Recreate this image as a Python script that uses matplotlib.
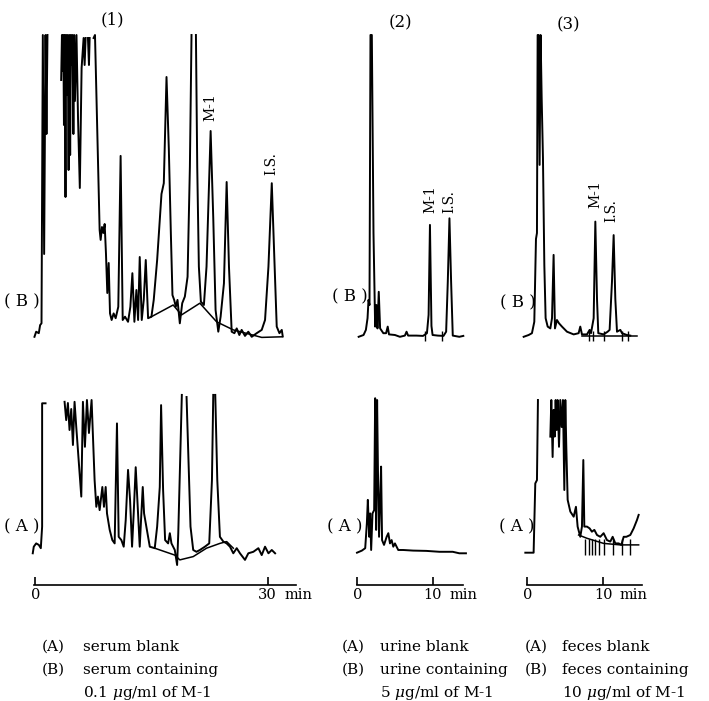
import numpy as np
import matplotlib.pyplot as plt

plt.rcParams['font.family'] = 'DejaVu Serif'
plt.rcParams['mathtext.fontset'] = 'dejavuserif'

nan = np.nan

# ---- (1) serum : time (min), detector response (% of chart) ----
serum_b_t = [-0.13, 0.09, 0.43, 0.6, 0.78, 0.95, 1.12, 1.3, 1.42, 1.55, nan,
             3.32, 3.42, 3.5, 3.6, 3.68, 3.78, 3.88, 3.97, 4.08, 4.17, 4.28, 4.38,
             4.48, 4.58, 4.68, 4.78, 4.9, 5.0, 5.1, 5.3, 5.5, 5.73, 5.96, 6.22, 6.35,
             6.48, nan, 6.78, 6.91, 7.0, nan, 7.51, 7.69, 8.29, 8.42, 8.59, 8.77, 8.94,
             9.11, 9.28, 9.46, 9.63, 9.84, 10.1, 10.36, 10.7, 11.0, 11.27, 11.57, 11.96,
             12.26, 12.52, 12.78, 13.04, 13.26, 13.47, 13.73, 13.99, 14.25, 14.55, 14.98,
             15.28, 15.72, 16.28, 16.58, 16.93, 17.23, 17.49, 17.7, 17.92, 18.13, 18.35,
             18.65, 18.96, 19.3, 19.65, 19.95, 20.16, nan, 20.73, 20.9, 21.11, 21.37,
             21.76, 22.1, 22.63, 22.97, 23.27, 23.62, 23.92, 24.35, 24.7, 25.0, 25.35,
             25.7, 26.0, 26.34, 26.64, 27.07, 27.5, 27.94, 28.58, 29.23, 29.66, 30.1,
             30.53, 30.87, 31.17, 31.52, 31.82, 31.95]
serum_b_v = [-0.6, 1.1, 0.6, 3.3, 3.9, 100, 27, 100, 67, 100, nan,
             85, 100, 88, 100, 70, 100, 46, 100, 80, 100, 55, 100,
             60, 100, 90, 100, 67, 100, 78, 100, 72, 49, 89, 99, 90,
             99, nan, 99, 90, 99, nan, 99, 100, 35, 31.7, 36, 34, 37,
             27, 14, 24, 7.2, 5, 7.2, 5.6, 9.4, 59.7, 5, 6.1, 4.4,
             9.4, 20.6, 4.4, 15, 5, 26, 5, 11.7, 25, 5.6, 6.1,
             11.7, 25, 47, 50.6, 86, 62, 34, 13.3, 11.7, 9.4, 11.7,
             3.9, 10.6, 12.8, 19.4, 56, 100, nan, 100, 56, 22.8, 11.1,
             10, 22.8, 68, 39, 8.3, 1.1, 6.1, 17.2, 51, 22.8, 1.1,
             0.6, 2.2, 0, 1.7, -0.3, 1.1, -0.6, 0.6, 1.7, 5, 22.8,
             50.6, 25, 2.8, 0.6, 1.7, -0.5]
serum_b_base_t = [14.98, 17.79, 18.87, 21.24, 23.4, 25.56, 29.23, 31.82]
serum_b_base_v = [6.1, 10, 6.7, 10.6, 4.4, 1.7, -0.8, -0.6]

serum_a_t = [-0.35, -0.22, 0.09, 0.43, 0.69, 0.86, 0.86, 1.3, nan,
             3.76, 3.97, 4.19, 4.4, 4.62, 4.84, 5.05, 5.27, 5.92, 6.13, 6.39, 6.65,
             6.91, 7.25, 7.64, 7.86, 8.07, 8.29, 8.64, 8.85, 9.07, 9.24, 9.59, 9.93,
             10.23, 10.53, 10.75, 11.1, 11.4, 11.66, 11.96, 12.22, 12.48, 12.69, 12.95,
             13.21, 13.47, 13.64, 13.86, 14.03, 14.25, 14.77, 15.41, 15.72, 16.06,
             16.23, 16.49, 16.75, 17.14, 17.36, 17.57, 18.0, 18.3, 18.45, 18.65, 18.91,
             nan, 19.52, 19.78, 20.03, 20.38, 20.8, 21.24, 21.89, 22.45, 22.8, 22.97,
             nan, 23.23, 23.49, 23.83, 24.27, 24.7, 25.13, 25.56, 26.0, 26.42, 27.07,
             27.5, 28.15, 28.8, 29.23, 29.66, 30.1, 30.53, 30.96]
serum_a_v = [-0.1, 2.1, 3.2, 2.7, 1.6, 8.8, 49.9, 49.9, nan,
             50.4, 44.3, 50, 41, 48, 36, 50.4, 42, 18.8, 50.4, 35.4, 51,
             40, 51, 24.3, 15.4, 18.8, 14.3, 22, 15.4, 22, 13.2, 7.7, 4.3,
             3.2, 43.2, 5.4, 4.3, 2.1, 11, 27.7, 17.7, 2.1, 13.2, 28.6,
             15.4, 2.1, 11, 22, 13.2, 9.9, 2.1, 1.6, 8.8, 22,
             49.3, 21, 4.3, 3.2, 6.6, 3.2, 1, -4, 6.6, 26.6, 52.7,
             nan, 52, 30, 8.8, 1, 0.4, 1, 2.1, 3.2, 24.3, 52.7,
             nan, 52.7, 24.3, 5.4, 3.8, 3.2, 2.1, -0.1, 1.6, -0.1, -2.3,
             -0.1, 0.4, 1.6, -0.7, 2.1, -0.1, 1, -0.1]
serum_a_base_t = [15.41, 18.0, 18.65, 20.38, 22.1, 23.83, 24.7, 25.56]
serum_a_base_v = [1.6, -0.7, -2.3, -1.2, 1.6, 3.2, 3.8, 1.6]

# ---- (2) urine ----
urine_b_t = [0.18, 0.83, 1.14, 1.36, 1.49, 1.62, 1.75, 1.93, 2.15, 2.37, 2.54, 2.68,
             2.85, 3.03, 3.46, 3.82, 4.04, 4.21, 5.0, 5.66, 6.32, 6.54, 6.75, 7.85,
             8.73, 9.25, 9.47, 9.65, 9.85, 10.0, 10.7, 11.45, 11.8, 12.02, 12.24,
             12.46, 12.68, 13.55, 14.08]
urine_b_v = [-0.6, 0, 1.7, 5.6, 11.7, 10, 100, 100, 34, 2.8, 10, 2.2,
             14.4, 2.2, 0.6, 0.6, 2.8, 0.2, 0, -0.6, -0.2, 1.1, -0.2, -0.2,
             -0.3, 0.6, 6.7, 36.7, 3, 0, -0.2, -0.3, 1.1, 17.8, 38.9,
             17.8, -0.2, -0.6, -0.3]
urine_b_marks = [8.99, 11.27]

urine_a_t = [-0.04, 0.61, 1.05, 1.27, 1.4, 1.58, 1.71, 1.84, 2.02, 2.24, 2.37, 2.5,
             2.63, 2.76, 2.89, 3.07, 3.16, 3.29, 3.55, 3.9, 4.12, 4.34, 4.56, 4.78,
             5.0, 5.44, 6.1, 7.41, 9.17, 10.92, 12.68, 13.55, 14.43]
urine_a_v = [0.1, 0.8, 1.6, 9.9, 17.7, 5.4, 13.2, 1, 13.2, 14.3, 51.6, 7.7,
             51, 24.3, 5.4, 21, 28.8, 4.3, 2.7, 5.4, 6.6, 3.2, 4.3, 2.1,
             3.2, 1, 1, 0.8, 0.7, 0.4, 0.4, -0.1, -0.1]

# ---- (3) feces ----
feces_b_t = [-0.48, 0.18, 0.61, 0.92, 1.14, 1.27, 1.36, 1.49, 1.62, 1.75, 1.89, 2.06,
             2.24, 2.41, 2.68, 3.03, 3.25, 3.46, 3.64, 3.9, 4.17, 4.56, 5.22, 6.1,
             6.75, 6.97, 7.19, 7.85, 8.2, 8.38, 8.73, 8.95, 9.17, 9.34, 10.04, 10.57,
             10.83, 11.14, 11.36, 11.58, 11.8, 12.24, 12.46, 13.1, 13.55]
feces_b_v = [-0.6, 0, 0.6, 4.4, 32, 34, 100, 100, 56.7, 100, 79, 59,
             23.3, 5.6, 2.8, 2.2, 5.6, 26.7, 2.2, 5, 3.9, 2.8, 1.1, 0.2,
             0.6, 2.8, 0.2, 0.2, 1.7, 0.6, 5.6, 37.8, 12, 0.6, 0.2, 1.1,
             1.7, 17.8, 33.3, 12, 1.1, 1.7, 0.6, 0, -0.2]
feces_b_base_t = [7.2, 14.4]
feces_b_base_v = [-0.3, -0.3]
feces_b_marks = [8.16, 8.7, 10.1, 12.4, 13.3]

feces_a_t = [-0.26, 0.83, 1.05, 1.27, 1.4, nan,
             3.03, 3.16, 3.33, 3.46, 3.6, 3.73, 3.86, 3.99, 4.17, 4.34, 4.52, 4.69,
             4.87, 5.0, 5.13, 5.31, 5.66, 6.1, 6.4, 6.62, 6.97, 7.19, 7.37, 7.5, 7.85,
             8.2, 8.5, 8.82, 9.17, 9.6, 10.04, 10.48, 10.92, 11.23, 11.58, 12.02,
             12.37, 12.68, 13.03, 13.55, 13.99, 14.43, 14.65]
feces_a_v = [0.1, 0.1, 23.2, 24.3, 51, nan,
             38.8, 51, 32, 47.7, 38.8, 51, 41, 51, 35.4, 51, 42, 51,
             21, 51, 35.4, 17.7, 13.8, 12.1, 15.4, 8.8, 5.4, 8.8, 31, 8.8, 8.8,
             8.2, 7.1, 7.7, 6, 5.4, 6.6, 4.3, 3.8, 5.4, 3.2, 3.2,
             2.7, 5.4, 5.4, 6, 8.2, 11, 12.7]
feces_a_base_t = [6.75, 7.85, 10.04, 12.24, 14.65]
feces_a_base_v = [6, 4.9, 3.2, 2.7, 2.7]
feces_a_marks = [7.63, 8.07, 8.51, 8.95, 9.39, 10.04, 11.27, 12.46, 13.46]

# labelled peaks: (text, time, peak height, label height)
serum_peaks = [("M-1", 22.63, 68, 71.4), ("I.S.", 30.53, 50.6, 53.3)]
urine_peaks = [("M-1", 9.65, 36.7, 40.6), ("I.S.", 12.24, 38.9, 40.6)]
feces_peaks = [("M-1", 9.0, 38.4, 42.2), ("I.S.", 11.1, 34, 37.8)]

titles = ["(1)", "(2)", "(3)"]
axis_ticks = [[0, 30], [0, 10], [0, 10]]
legend_texts = [
    ["serum blank", "serum containing", "0.1 $\\mu$g/ml of M-1"],
    ["urine blank", "urine containing", "5 $\\mu$g/ml of M-1"],
    ["feces blank", "feces containing", "10 $\\mu$g/ml of M-1"],
]

W, H = 709, 701
fig = plt.figure(figsize=(W / 100, H / 100), dpi=100)


def rect(x0, y0, x1, y1):
    # pixel box -> figure fraction
    return [x0 / W, 1 - y1 / H, (x1 - x0) / W, (y1 - y0) / H]


cols = [
    dict(x=(34, 296), xlim=(-0.19, 33.66), title_x=112, title_y=20,
         b_lab=(22, 302), a_lab=(22, 527), leg_x=(42, 83),
         b=(serum_b_t, serum_b_v), b_base=(serum_b_base_t, serum_b_base_v), b_marks=[],
         a=(serum_a_t, serum_a_v), a_base=(serum_a_base_t, serum_a_base_v), a_marks=[],
         peaks=serum_peaks),
    dict(x=(357, 463), xlim=(-0.04, 14.04), title_x=400, title_y=23,
         b_lab=(350, 297), a_lab=(345, 527), leg_x=(342, 380),
         b=(urine_b_t, urine_b_v), b_base=None, b_marks=urine_b_marks,
         a=(urine_a_t, urine_a_v), a_base=None, a_marks=[],
         peaks=urine_peaks),
    dict(x=(527, 642), xlim=(-0.04, 15.09), title_x=568, title_y=25,
         b_lab=(518, 303), a_lab=(517, 527), leg_x=(525, 562),
         b=(feces_b_t, feces_b_v), b_base=(feces_b_base_t, feces_b_base_v), b_marks=feces_b_marks,
         a=(feces_a_t, feces_a_v), a_base=(feces_a_base_t, feces_a_base_v), a_marks=feces_a_marks,
         peaks=feces_peaks),
]

lw = 1.4
for i, c in enumerate(cols):
    x0, x1 = c["x"]
    axb = fig.add_axes(rect(x0, 35, x1, 341))
    axa = fig.add_axes(rect(x0, 392, x1, 585))
    axb.set_xlim(*c["xlim"])
    axa.set_xlim(*c["xlim"])
    axb.set_ylim(-2, 100)
    axa.set_ylim(-10.67, 53.67)

    axb.plot(*c["b"], color="black", lw=lw, clip_on=False)
    if c["b_base"]:
        axb.plot(*c["b_base"], color="black", lw=1.1, clip_on=False)
    if c["b_marks"]:
        axb.vlines(c["b_marks"], -2, 1.5, color="black", lw=1.0, clip_on=False)

    axa.plot(*c["a"], color="black", lw=lw, clip_on=False)
    if c["a_base"]:
        axa.plot(*c["a_base"], color="black", lw=1.1, clip_on=False)
    if c["a_marks"]:
        axa.vlines(c["a_marks"], -0.8, 4.5, color="black", lw=1.0, clip_on=False)

    for txt, t, h, lab_h in c["peaks"]:
        axb.text(t, lab_h, txt, rotation=90, ha="center", va="bottom", fontsize=10)

    for ax in (axb, axa):
        for s in ax.spines.values():
            s.set_visible(False)
        ax.set_yticks([])
        ax.patch.set_alpha(0)
    axb.set_xticks([])

    axa.spines["bottom"].set_visible(True)
    axa.spines["bottom"].set_linewidth(1.2)
    axa.set_xticks(axis_ticks[i])
    axa.set_xticklabels([str(t) for t in axis_ticks[i]])
    axa.tick_params(axis="x", direction="in", length=6, width=1.2, pad=2, labelsize=10.5)
    axa.annotate("min", xy=(axis_ticks[i][-1], 0), xycoords=("data", "axes fraction"),
                 xytext=(12, -2), textcoords="offset points", ha="left", va="top",
                 fontsize=10.5)

    fig.text(c["title_x"] / W, 1 - c["title_y"] / H, titles[i],
             ha="center", va="center", fontsize=12)
    fig.text(c["b_lab"][0] / W, 1 - c["b_lab"][1] / H, "( B )",
             ha="center", va="center", fontsize=12)
    fig.text(c["a_lab"][0] / W, 1 - c["a_lab"][1] / H, "( A )",
             ha="center", va="center", fontsize=12)

    lx0, lx1 = c["leg_x"]
    for j, ly in enumerate([647, 670, 693]):
        if j < 2:
            fig.text(lx0 / W, 1 - ly / H, "(A)" if j == 0 else "(B)",
                     ha="left", va="center", fontsize=11)
        fig.text(lx1 / W, 1 - ly / H, legend_texts[i][j],
                 ha="left", va="center", fontsize=11)

fig.savefig("out.png", dpi=100)
